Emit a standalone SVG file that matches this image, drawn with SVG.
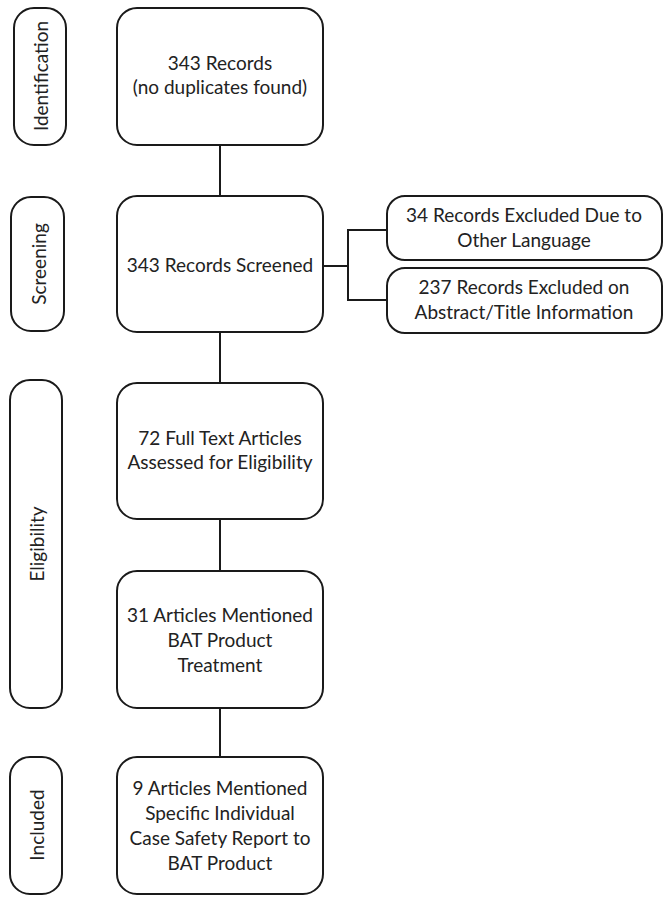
<svg xmlns="http://www.w3.org/2000/svg" width="670" height="902" viewBox="0 0 670 902">
<style>
.box{fill:#fff;stroke:#1a1a1a;stroke-width:2}
.conn{stroke:#1a1a1a;stroke-width:2;fill:none}
text{font-family:Lato,"Open Sans","Liberation Sans",sans-serif;font-size:19px;fill:#222;text-anchor:middle}
.side{dominant-baseline:central}
</style>
<rect width="670" height="902" fill="#fff"/>
<g id="connectors">
<line class="conn" x1="220" y1="145" x2="220" y2="196"/>
<line class="conn" x1="220" y1="332" x2="220" y2="383"/>
<line class="conn" x1="220" y1="519" x2="220" y2="571"/>
<line class="conn" x1="220" y1="708" x2="220" y2="757"/>
<path class="conn" d="M323 266 H348 M387 230 H348 V300 H387"/>
</g>
<g id="lbl-identification"><rect class="box" x="14" y="8" width="52" height="137" rx="20"/><text class="side" transform="translate(40,76) rotate(-90)">Identification</text></g>
<g id="lbl-screening"><rect class="box" x="11" y="197" width="53" height="134" rx="20"/><text class="side" transform="translate(38,264) rotate(-90)">Screening</text></g>
<g id="lbl-eligibility"><rect class="box" x="10" y="380" width="52" height="328" rx="20"/><text class="side" transform="translate(36,544) rotate(-90)">Eligibility</text></g>
<g id="lbl-included"><rect class="box" x="10" y="757" width="52" height="137" rx="20"/><text class="side" transform="translate(36,825) rotate(-90)">Included</text></g>
<g id="n1"><rect class="box" x="117" y="8" width="206" height="137" rx="20"/><text x="220" y="70">343 Records</text><text x="220" y="94">(no duplicates found)</text></g>
<g id="n2"><rect class="box" x="117" y="196" width="206" height="136" rx="20"/><text x="220" y="272">343 Records Screened</text></g>
<g id="n2a"><rect class="box" x="387" y="196" width="275" height="64" rx="18"/><text x="524" y="222">34 Records Excluded Due to</text><text x="524" y="247">Other Language</text></g>
<g id="n2b"><rect class="box" x="387" y="268" width="275" height="65" rx="18"/><text x="524" y="294">237 Records Excluded on</text><text x="524" y="319">Abstract/Title Information</text></g>
<g id="n3"><rect class="box" x="117" y="383" width="206" height="136" rx="20"/><text x="220" y="445">72 Full Text Articles</text><text x="220" y="469">Assessed for Eligibility</text></g>
<g id="n4"><rect class="box" x="117" y="571" width="206" height="137" rx="20"/><text x="220" y="622">31 Articles Mentioned</text><text x="220" y="647">BAT Product</text><text x="220" y="672">Treatment</text></g>
<g id="n5"><rect class="box" x="117" y="757" width="206" height="137" rx="20"/><text x="220" y="795">9 Articles Mentioned</text><text x="220" y="820">Specific Individual</text><text x="220" y="845">Case Safety Report to</text><text x="220" y="870">BAT Product</text></g>
</svg>
